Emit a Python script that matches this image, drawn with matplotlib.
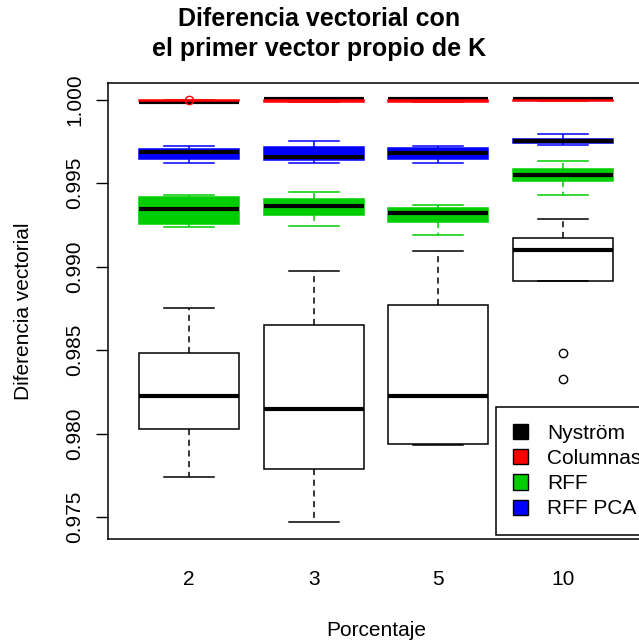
import numpy as np
import matplotlib
matplotlib.use('Agg')
import matplotlib.pyplot as plt
from matplotlib.patches import Patch

plt.rcParams['font.family'] = ['Liberation Sans', 'DejaVu Sans']

porcentajes = ['2', '3', '5', '10']
metodos = ['Nyström', 'Columnas', 'RFF', 'RFF PCA']
colores = ['#000000', '#FF0000', '#00CD00', '#0000FF']

# each row: [bigote inf, Q1, mediana, Q3, bigote sup] for 2, 3, 5, 10 %
nystrom = [[0.97742, 0.98030, 0.98225, 0.98481, 0.98755],
           [0.97470, 0.97790, 0.98148, 0.98653, 0.98975],
           [0.97930, 0.97938, 0.98225, 0.98771, 0.99091],
           [0.98913, 0.98913, 0.99099, 0.99169, 0.99285]]
nystrom_out = [[], [], [], [0.98481, 0.98326]]

columnas = [[0.99990, 0.99990, 0.99988, 0.99998, 0.99998],
            [0.99988, 0.99988, 1.00005, 1.00000, 1.00000],
            [0.99988, 0.99988, 1.00005, 1.00000, 1.00000],
            [0.99990, 0.99990, 1.00003, 1.00000, 1.00000]]
columnas_out = [[0.99996], [], [], []]

rff = [[0.99239, 0.99257, 0.99347, 0.99420, 0.99427],
       [0.99246, 0.99312, 0.99363, 0.99407, 0.99450],
       [0.99192, 0.99267, 0.99324, 0.99351, 0.99372],
       [0.99432, 0.99516, 0.99550, 0.99585, 0.99636]]
rff_out = [[], [], [], []]

rff_pca = [[0.99621, 0.99646, 0.99688, 0.99702, 0.99720],
           [0.99621, 0.99640, 0.99658, 0.99716, 0.99752],
           [0.99621, 0.99646, 0.99682, 0.99708, 0.99720],
           [0.99728, 0.99740, 0.99752, 0.99762, 0.99792]]
rff_pca_out = [[], [], [], []]


def make_stats(rows, outs):
    stats = []
    for r, o in zip(rows, outs):
        stats.append({'whislo': r[0], 'q1': r[1], 'med': r[2], 'q3': r[3],
                      'whishi': r[4], 'fliers': np.array(o)})
    return stats


fig = plt.figure(figsize=(6.39, 6.41), dpi=100)
ax = fig.add_axes([108/639, 102/641, 536/639, 456.3/641])

pos = np.arange(1, len(porcentajes)+1)
series = [(nystrom, nystrom_out, '#000000', 'white'),
          (columnas, columnas_out, '#FF0000', '#FF0000'),
          (rff, rff_out, '#00CD00', '#00CD00'),
          (rff_pca, rff_pca_out, '#0000FF', '#0000FF')]

for k, (rows, outs, edge, face) in enumerate(series):
    bp = ax.bxp(make_stats(rows, outs), positions=pos, widths=0.8, capwidths=0.4,
                patch_artist=True, manage_ticks=False,
                boxprops=dict(facecolor=face, edgecolor=edge, linewidth=1.1),
                medianprops=dict(color='black', linewidth=3, solid_capstyle='butt'),
                whiskerprops=dict(color=edge, linewidth=1.1, linestyle=(0, (4, 3))),
                capprops=dict(color=edge, linewidth=1.1),
                flierprops=dict(marker='o', markerfacecolor='none', markeredgecolor=edge,
                                markersize=6, markeredgewidth=1))
    if k == 1:
        # red boxes sit on top of their medians, like the original
        for b in bp['boxes']:
            b.set_zorder(2.5)
        for f in bp['fliers']:
            f.set_zorder(3)

ax.set_xlim(0.35, 4.65)
ax.set_ylim(0.97369, 1.00102)
ax.set_xticks(pos)
ax.set_xticklabels(porcentajes)
yt = [0.975, 0.980, 0.985, 0.990, 0.995, 1.000]
ax.set_yticks(yt)
ax.set_yticklabels(['%.3f' % v for v in yt], rotation=90, va='center')
ax.tick_params(axis='x', length=0, pad=22.5, labelsize=15)
ax.tick_params(axis='y', length=8.3, width=1, pad=9, labelsize=15)
for s in ax.spines.values():
    s.set_linewidth(1.1)

ax.set_xlabel('Porcentaje', fontsize=15, labelpad=23)
ax.set_ylabel('Diferencia vectorial', fontsize=15, labelpad=23)
fig.text(0.5, 1-34/641, 'Diferencia vectorial con\nel primer vector propio de K',
         ha='center', va='center', fontsize=18, fontweight='bold', linespacing=1.33)

handles = [Patch(facecolor=c, edgecolor='black', linewidth=1) for c in colores]
leg = ax.legend(handles, metodos, loc='upper left', bbox_to_anchor=(496/639, 1-407/641),
                bbox_transform=fig.transFigure, borderaxespad=0, fontsize=15,
                fancybox=False, framealpha=1, edgecolor='black',
                handlelength=0.75, handleheight=0.75, handletextpad=0.9,
                labelspacing=0.3, borderpad=0.8)
leg.get_frame().set_linewidth(1.1)

plt.savefig('out.png', dpi=100)
